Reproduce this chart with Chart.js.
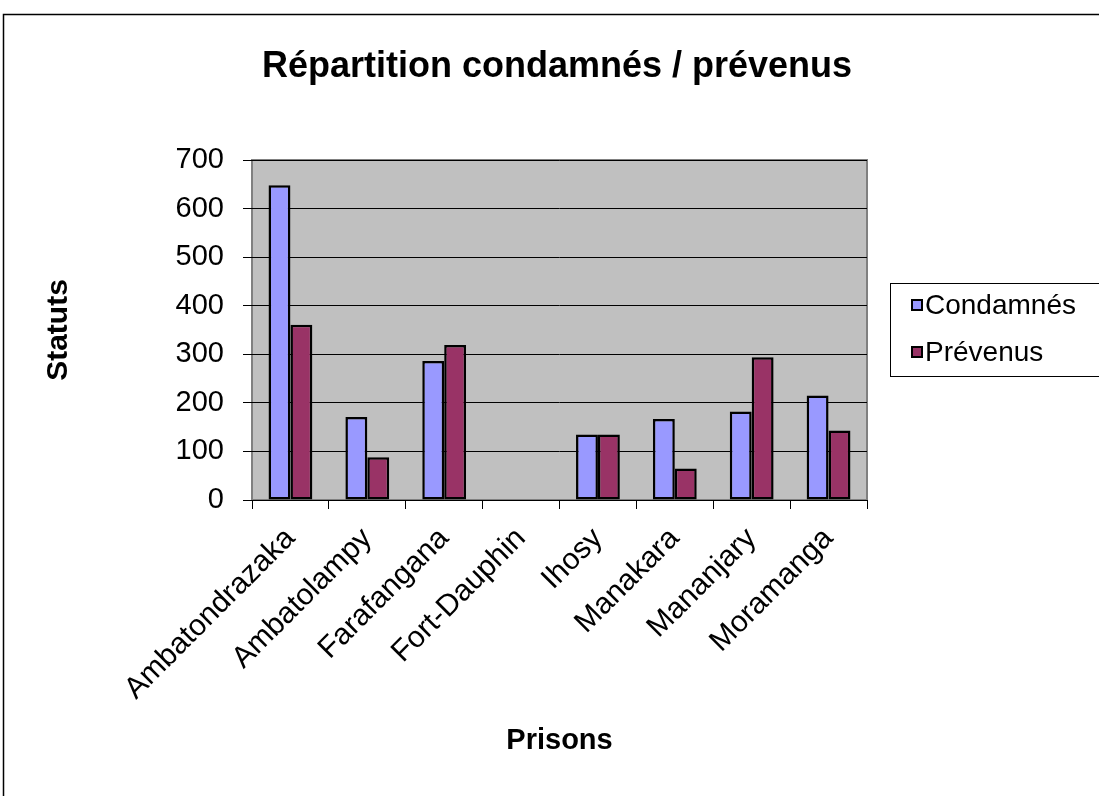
<!DOCTYPE html>
<html>
<head>
<meta charset="utf-8">
<script src="https://cdn.jsdelivr.net/npm/chart.js@4.4.1/dist/chart.umd.min.js"></script>
<style>
  html, body { margin: 0; padding: 0; background: #ffffff; }
  #wrap { width: 1099px; height: 796px; position: relative; }
</style>
</head>
<body>
<div id="wrap"><canvas id="c" width="1099" height="796"></canvas></div>
<script>
// Prisons (catégories)
const prisons = ['Ambatondrazaka', 'Ambatolampy', 'Farafangana', 'Fort-Dauphin', 'Ihosy', 'Manakara', 'Mananjary', 'Moramanga'];
// Effectifs par statut
const condamnes = [648, 171, 286, 0, 135, 167, 182, 215];
const prevenus  = [361, 88, 319, 0, 135, 65, 294, 143];
// Graduations de l'axe vertical
const yTicks = [0, 100, 200, 300, 400, 500, 600, 700];

const FONT = "'Liberation Sans', Arial, sans-serif";

// Fond gris de la zone de traçage, cadre, et cadre extérieur du graphique
const framePlugin = {
  id: 'frame',
  beforeDraw(chart) {
    const { ctx, chartArea: a } = chart;
    ctx.save();
    ctx.fillStyle = '#ffffff';
    ctx.fillRect(0, 0, chart.width, chart.height);
    ctx.strokeStyle = '#000000';
    ctx.lineWidth = 1.5;
    ctx.strokeRect(3.5, 14.5, chart.width + 10, chart.height + 10);
    ctx.fillStyle = '#C0C0C0';
    ctx.fillRect(a.left, a.top, a.right - a.left, a.bottom - a.top);
    ctx.strokeStyle = '#808080';
    ctx.lineWidth = 2;
    ctx.strokeRect(a.left, a.top, a.right - a.left, a.bottom - a.top);
    ctx.restore();
  }
};

// Légende encadrée à droite de la zone de traçage
const boxLegend = {
  id: 'boxLegend',
  afterDraw(chart) {
    const { ctx } = chart;
    const x0 = 890.5, y0 = 283.5, w = 210, h = 93;
    ctx.save();
    ctx.strokeStyle = '#000000';
    ctx.lineWidth = 1;
    ctx.strokeRect(x0, y0, w, h);
    ctx.font = '28px ' + FONT;
    ctx.textBaseline = 'middle';
    chart.data.datasets.forEach((ds, i) => {
      const cy = 305 + i * 47;
      ctx.fillStyle = ds.backgroundColor;
      ctx.fillRect(912, cy - 5, 10, 10);
      ctx.lineWidth = 2;
      ctx.strokeStyle = '#000000';
      ctx.strokeRect(912, cy - 5, 10, 10);
      ctx.fillStyle = '#000000';
      ctx.fillText(ds.label, 925, cy + 1);
    });
    ctx.restore();
  }
};

new Chart(document.getElementById('c'), {
  type: 'bar',
  data: {
    labels: prisons,
    datasets: [
      { label: 'Condamnés', data: condamnes, backgroundColor: '#9999FF', borderColor: '#000000', borderWidth: 2.5, borderSkipped: false },
      { label: 'Prévenus', data: prevenus, backgroundColor: '#993366', borderColor: '#000000', borderWidth: 2.5, borderSkipped: false }
    ]
  },
  options: {
    responsive: false,
    animation: false,
    devicePixelRatio: 1,
    layout: { padding: { left: 15, right: 0, top: 0, bottom: 34 } },
    datasets: { bar: { categoryPercentage: 0.57, barPercentage: 1.0 } },
    plugins: {
      legend: { display: false },
      tooltip: { enabled: false },
      title: {
        display: true,
        text: 'Répartition condamnés / prévenus',
        color: '#000000',
        font: { family: FONT, size: 36, weight: 'bold' },
        padding: { top: 45, bottom: 71.8 }
      }
    },
    scales: {
      x: {
        afterFit(scale) { scale.height = 262; },
        border: { display: false },
        grid: { display: true, drawOnChartArea: false, drawTicks: true, tickLength: 9, color: '#000000', lineWidth: 1, offset: true },
        ticks: {
          color: '#000000',
          font: { family: FONT, size: 30 },
          minRotation: 45, maxRotation: 45,
          padding: 12,
          autoSkip: false
        },
        title: {
          display: true,
          text: 'Prisons',
          color: '#000000',
          font: { family: FONT, size: 29, weight: 'bold' },
          padding: { top: 4, bottom: 4 }
        }
      },
      y: {
        min: yTicks[0],
        max: yTicks[yTicks.length - 1],
        afterFit(scale) { scale.width = 237; },
        afterBuildTicks(scale) { scale.ticks = yTicks.map(v => ({ value: v })); },
        border: { display: false },
        grid: { color: '#000000', lineWidth: 1, drawTicks: true, tickLength: 9 },
        ticks: {
          color: '#000000',
          font: { family: FONT, size: 29 },
          padding: 19
        },
        title: {
          display: true,
          text: 'Statuts',
          color: '#000000',
          font: { family: FONT, size: 30, weight: 'bold' },
          padding: { top: 26, bottom: 4 }
        }
      },
      // espace réservé à droite pour la légende encadrée
      legendSpace: {
        type: 'linear',
        position: 'right',
        display: true,
        afterFit(scale) { scale.width = 232; },
        border: { display: false },
        grid: { display: false, drawOnChartArea: false },
        ticks: { display: false }
      }
    }
  },
  plugins: [framePlugin, boxLegend]
});
</script>
</body>
</html>
